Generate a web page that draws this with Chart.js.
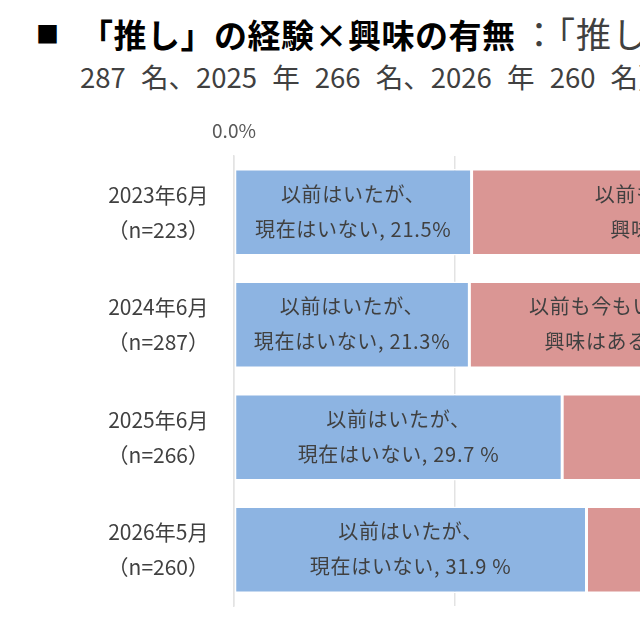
<!DOCTYPE html>
<html>
<head>
<meta charset="utf-8">
<script src="https://cdn.jsdelivr.net/npm/chart.js@4.4.1/dist/chart.umd.min.js"></script>
<style>
  html, body { margin: 0; padding: 0; width: 640px; height: 640px; overflow: hidden; background: #fff; }
  #wrap { position: absolute; left: 0; top: 0; width: 1400px; height: 640px; }
  .t { position: absolute; white-space: nowrap; font-family: "Noto Sans CJK JP", sans-serif; }
  #mark { left: 36px; top: 18px; font-size: 23px; line-height: 30px; color: #000; }
  #title1 { left: 80px; top: 15px; font-size: 33px; line-height: 36px; color: #000; font-weight: 700; letter-spacing: 0.5px; }
  #title1 span { font-weight: 400; color: #404040; font-size: 35px; letter-spacing: 1px; margin-left: 6px; }
  #title2 { left: 80px; top: 61px; font-size: 27.5px; line-height: 30px; color: #404040; word-spacing: 9px; }
  #box { position: absolute; left: 0; top: 0; width: 1400px; height: 640px; }
</style>
</head>
<body>
<div id="wrap">
  <div class="t" id="mark">■</div>
  <div class="t" id="title1">「推し」の経験×興味の有無<span>：「推し」がいない人（2023 年 223 名、2024 年</span></div>
  <div class="t" id="title2">287 名、2025 年 266 名、2026 年 260 名）</div>
  <div id="box"><canvas id="chart"></canvas></div>
</div>
<script>
//
// data
//
const periods = ['2023年6月', '2024年6月', '2025年6月', '2026年5月'];
const sampleSizes = [223, 287, 266, 260];

const pastOnly = [21.5, 21.3, 29.7, 31.9];        // 以前はいたが、現在はいない
const interested = [41.0, 29.5, 33.5, 30.0];      // 以前も今もいないが、興味はある
const pctSep = ['', '', ' ', ' '];

const labels = periods.map((p, i) => [p, '（n=' + sampleSizes[i] + '）']);

Chart.defaults.font.family = '"Noto Sans CJK JP", sans-serif';
Chart.defaults.color = '#404040';

// draws the two-line label in the middle of each bar segment
const barLabels = {
  id: 'barLabels',
  afterDatasetsDraw(chart) {
    const ctx = chart.ctx;
    ctx.save();
    ctx.font = '20px "Noto Sans CJK JP", sans-serif';
    ctx.letterSpacing = '0.7px';
    ctx.fillStyle = '#404040';
    ctx.textAlign = 'center';
    ctx.textBaseline = 'middle';
    chart.data.datasets.forEach((ds, di) => {
      chart.getDatasetMeta(di).data.forEach((bar, i) => {
        const cx = (bar.x + bar.base) / 2;
        const v = ds.data[i].toFixed(1) + pctSep[i] + '%';
        ctx.fillText(ds.lines[0], cx, bar.y - 18);
        ctx.fillText(ds.lines[1] + ', ' + v, cx, bar.y + 17);
      });
    });
    ctx.restore();
  }
};

const config = {
  type: 'bar',
  data: {
    labels: labels,
    datasets: [
      {
        label: '以前はいたが、現在はいない',
        lines: ['以前はいたが、', '現在はいない'],
        data: pastOnly,
        backgroundColor: '#8db4e2',
      },
      {
        label: '以前も今もいないが、興味はある',
        lines: ['以前も今もいないが、', '興味はある'],
        data: interested,
        backgroundColor: '#da9694',
      }
    ]
  },
  options: {
    indexAxis: 'y',
    responsive: false,
    animation: false,
    layout: { padding: { left: 84, right: 61, top: 116, bottom: 34 } },
    datasets: {
      bar: {
        barPercentage: 0.77,
        categoryPercentage: 1,
        borderColor: '#ffffff',
        borderWidth: 1.5,
        borderSkipped: false
      }
    },
    scales: {
      x: {
        position: 'top',
        stacked: true,
        min: 0,
        max: 100,
        afterFit: (s) => { s.height = 40; },
        ticks: {
          stepSize: 20,
          padding: 14,
          color: '#595959',
          font: { size: 19 },
          callback: (v) => (v === 0 || v === 100) ? v.toFixed(1) + '%' : ''
        },
        grid: { color: '#e3e3e3', lineWidth: 1.5, drawTicks: false },
        border: { display: false }
      },
      y: {
        stacked: true,
        afterFit: (s) => { s.width = 150; s.paddingTop = 0; s.paddingBottom = 0; },
        ticks: {
          crossAlign: 'center',
          padding: 25,
          color: '#404040',
          font: { size: 21, lineHeight: 1.67 }
        },
        grid: { display: false, drawTicks: false },
        border: { color: '#e3e3e3', width: 1.5 }
      }
    },
    plugins: {
      legend: { display: false },
      tooltip: { enabled: false }
    }
  },
  plugins: [barLabels]
};

const canvas = document.getElementById('chart');
canvas.width = 1400;
canvas.height = 640;
const myChart = new Chart(canvas, config);
</script>
</body>
</html>
